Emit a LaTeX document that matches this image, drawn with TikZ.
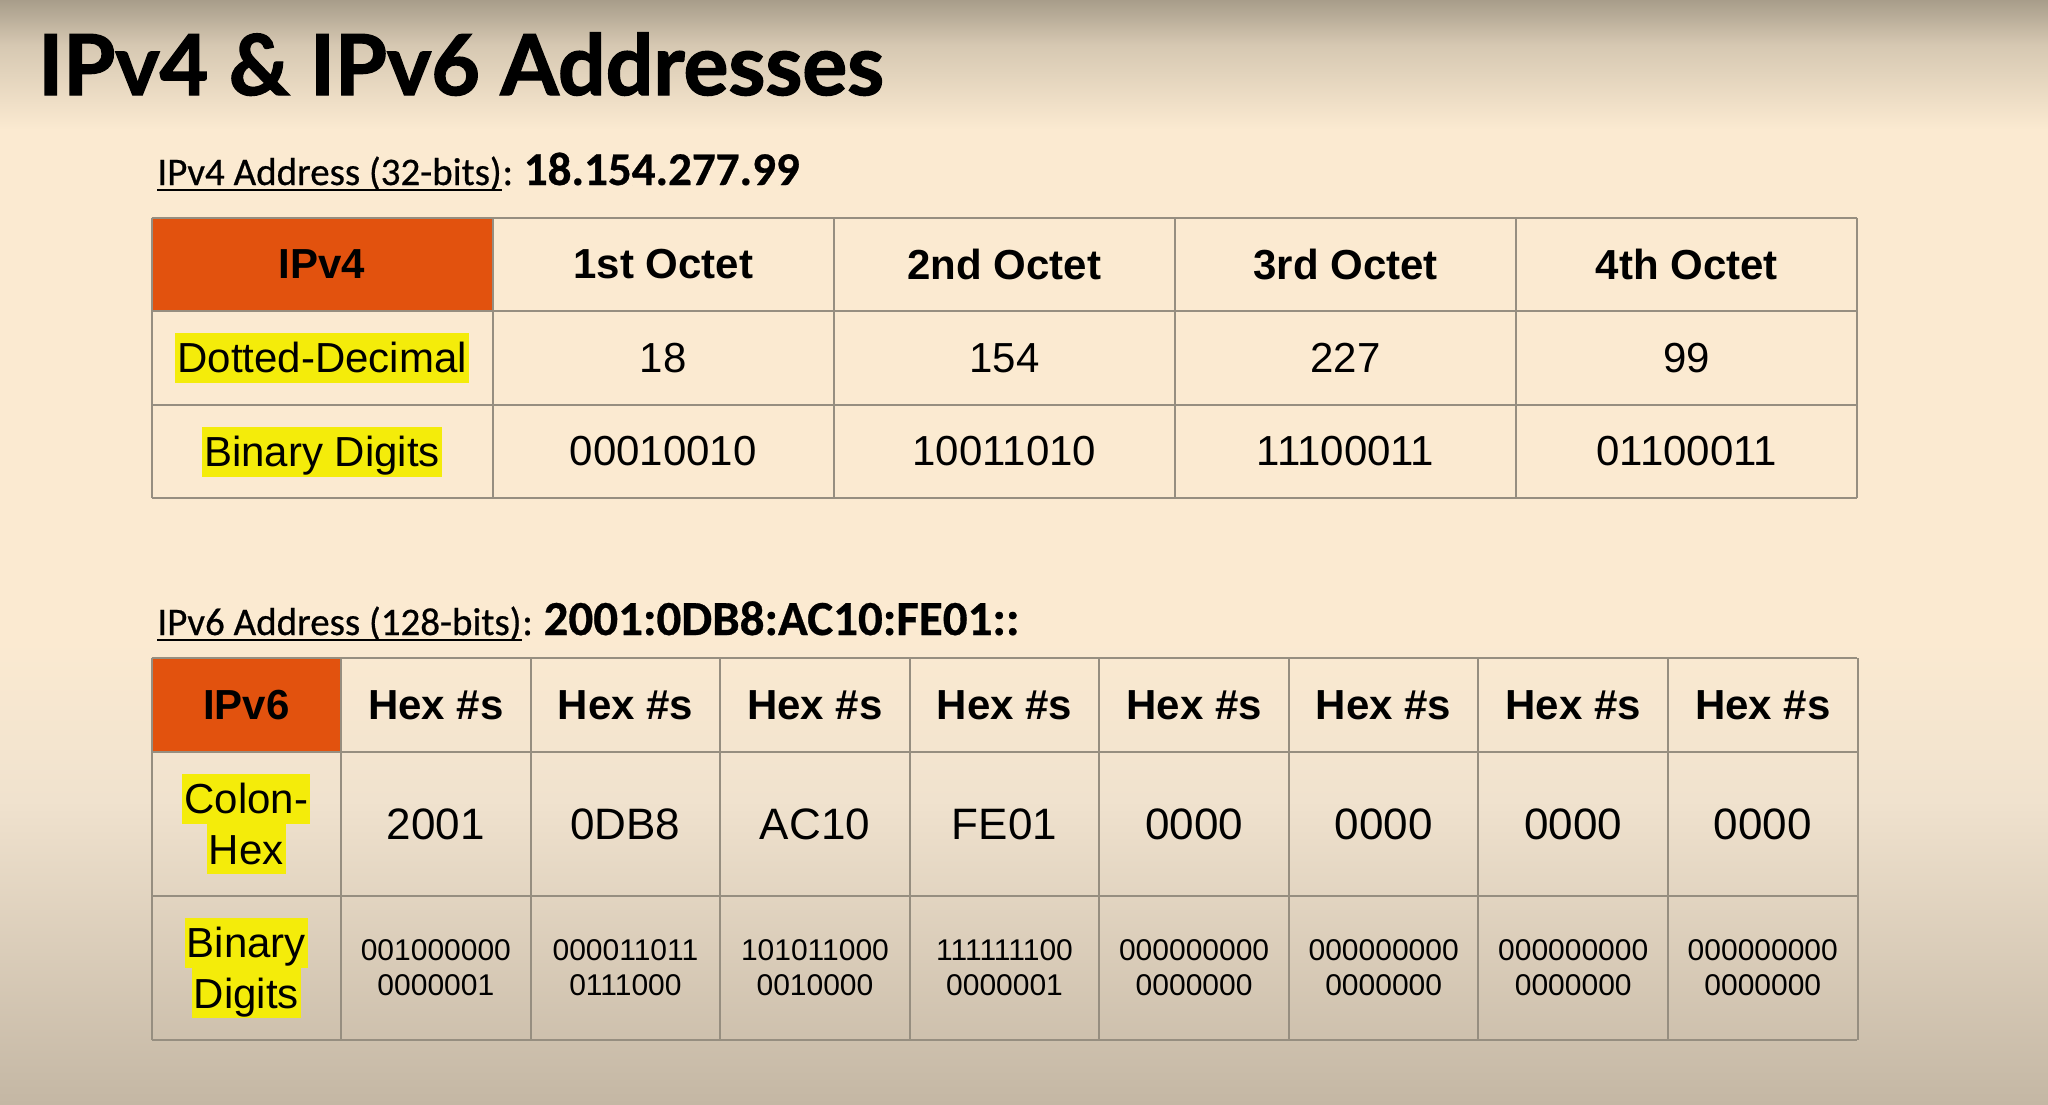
\documentclass[tikz,border=0pt]{standalone}
\usepackage{fontspec}
\setmainfont{Liberation Sans}
\newfontfamily\titlefont{Lato}[BoldFeatures={FakeBold=1.6}]
\newfontfamily\labelfont{Carlito}[FakeBold=0.6]
\usetikzlibrary{calc}

\definecolor{hdrorange}{RGB}{226,82,14}
\definecolor{hlyellow}{RGB}{244,236,10}
\definecolor{gridgray}{RGB}{150,142,128}
\definecolor{bgtop}{RGB}{168,157,138}
\definecolor{bgtopmid}{RGB}{214,200,178}
\definecolor{bgmain}{RGB}{251,234,209}
\definecolor{bglowmid}{RGB}{240,226,206}
\definecolor{bgbot}{RGB}{196,183,164}

\tikzset{
  gridline/.style={draw=gridgray, line width=1pt},
  headtext/.style={font=\fontsize{21}{25}\selectfont\bfseries, inner sep=0pt},
  celltext/.style={font=\fontsize{21}{25}\selectfont, inner sep=0pt},
  hextext/.style={font=\fontsize{22}{26}\selectfont, inner sep=0pt},
  bintext/.style={font=\fontsize{15}{17.5}\selectfont, align=center, inner sep=0pt},
  hilite/.style={fill=hlyellow, font=\fontsize{21}{25}\selectfont, inner xsep=1pt, inner ysep=0pt, text height=19.85pt, text depth=5.15pt},
  subhead/.style={font=\labelfont\fontsize{19.5}{23}\selectfont, anchor=base west, inner sep=0pt},
  addrtext/.style={font=\labelfont\fontsize{23.5}{27}\selectfont\bfseries, anchor=base west, inner sep=0pt},
  uline/.style={draw=black, line width=1.3pt}
}

\begin{document}
\begin{tikzpicture}[x=0.5pt,y=0.5pt,yscale=-1,xscale=1]
\useasboundingbox (0,0) rectangle (2048,1104);

% background
\fill[bgmain] (0,0) rectangle (2048,1104);
\fill[top color=bgtop, bottom color=bgtopmid] (0,0) rectangle (2048,45);
\fill[top color=bgtopmid, bottom color=bgmain] (0,45) rectangle (2048,130);
\fill[top color=bgmain, bottom color=bglowmid] (0,640) rectangle (2048,800);
\fill[top color=bglowmid, bottom color=bgbot] (0,800) rectangle (2048,1104);

% title
\node[font=\titlefont\fontsize{42}{50}\selectfont\bfseries, anchor=base west, inner sep=0pt] (title) at (38,95) {IPv4 \& IPv6 Addresses};

% IPv4 label
\node[subhead] (lab4) at (157,185) {IPv4 Address (32-bits)};
\node[subhead] (col4) at (lab4.base east) {:};
\node[addrtext] (addr4) at ($(col4.base east)+(10,0)$) {18.154.277.99};
\draw[uline] ($(lab4.base west)+(0,5)$) -- ($(lab4.base east)+(0,5)$);

% IPv4 table
\fill[hdrorange] (151.5,218) rectangle (492.7,311);
\foreach \i in {0,...,5}
  \draw[gridline] (151.5+\i*341.16,218) -- (151.5+\i*341.16,498);
\foreach \r in {218,311,405,498}
  \draw[gridline] (151.5,\r) -- (1857.3,\r);

\node[headtext] (v4h0) at (322.1,264.5) {IPv4};
\foreach \t [count=\i] in {1st Octet,2nd Octet,3rd Octet,4th Octet}
  \node[headtext] (v4h\i) at (322.1+\i*341.16,264.5) {\t};
\node[hilite] (v4d0) at (322.1,358) {Dotted-Decimal};
\foreach \t [count=\i] in {18,154,227,99}
  \node[celltext] (v4d\i) at (322.1+\i*341.16,358) {\t};
\node[hilite] (v4b0) at (322.1,451.5) {Binary Digits};
\foreach \t [count=\i] in {00010010,10011010,11100011,01100011}
  \node[celltext] (v4b\i) at (322.1+\i*341.16,451.5) {\t};

% IPv6 label
\node[subhead] (lab6) at (157,635) {IPv6 Address (128-bits)};
\node[subhead] (col6) at (lab6.base east) {:};
\node[addrtext, font=\labelfont\fontsize{24.5}{28}\selectfont\bfseries] (addr6) at ($(col6.base east)+(10,0)$) {2001:0DB8:AC10:FE01::};
\draw[uline] ($(lab6.base west)+(0,5)$) -- ($(lab6.base east)+(0,5)$);

% IPv6 table
\fill[hdrorange] (151.5,658) rectangle (341.1,752);
\foreach \i in {0,...,9}
  \draw[gridline] (151.5+\i*189.56,658) -- (151.5+\i*189.56,1040);
\foreach \r in {658,752,896,1040}
  \draw[gridline] (151.5,\r) -- (1857.3,\r);

\node[headtext] (v6h0) at (246.3,705) {IPv6};
\foreach \i in {1,...,8}
  \node[headtext] (v6h\i) at (246.3+\i*189.56,705) {Hex \#s};
\node[hilite, anchor=south] (v6c0a) at (246.3,824) {Colon-};
\node[hilite, anchor=north] (v6c0b) at (v6c0a.south) {Hex};
\foreach \t [count=\i] in {2001,0DB8,AC10,FE01,0000,0000,0000,0000}
  \node[hextext] (v6c\i) at (246.3+\i*189.56,824) {\t};
\node[hilite, anchor=south] (v6b0a) at (246.3,968) {Binary};
\node[hilite, anchor=north] (v6b0b) at (v6b0a.south) {Digits};
\foreach \a/\b [count=\i] in {001000000/0000001,000011011/0111000,101011000/0010000,111111100/0000001,000000000/0000000,000000000/0000000,000000000/0000000,000000000/0000000}
  \node[bintext] (v6b\i) at (246.3+\i*189.56,968) {\a\\\b};

\end{tikzpicture}
\end{document}
